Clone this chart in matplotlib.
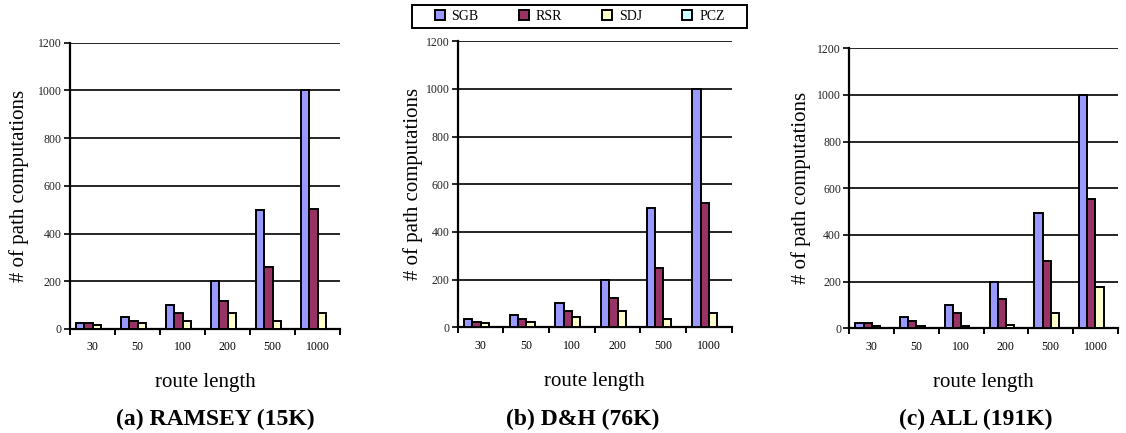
import matplotlib
matplotlib.use("Agg")
import matplotlib.pyplot as plt
from matplotlib.patches import Rectangle
import numpy as np

plt.rcParams['font.family'] = ['Liberation Serif', 'DejaVu Serif']

# route lengths on the x axis
route_lengths = ["30", "50", "100", "200", "500", "1000"]
methods = ["SGB", "RSR", "SDJ", "PCZ"]
colors = ["#9999FF", "#993366", "#FFFFCC", "#CCFFFF"]

# number of path computations per method, one list per data set
ramsey_sgb = [25, 50, 100, 200, 500, 1000]
ramsey_rsr = [25, 35, 68, 118, 260, 503]
ramsey_sdj = [17, 25, 35, 68, 35, 68]
ramsey_pcz = [0, 0, 0, 0, 0, 0]

dh_sgb = [33, 50, 100, 200, 500, 1000]
dh_rsr = [24, 34, 67, 125, 250, 520]
dh_sdj = [17, 24, 42, 67, 34, 59]
dh_pcz = [0, 0, 0, 0, 0, 0]

all_sgb = [23, 50, 100, 198, 494, 1000]
all_rsr = [23, 32, 66, 127, 290, 554]
all_sdj = [10, 9, 9, 16, 67, 179]
all_pcz = [0, 0, 0, 0, 0, 0]

# caption, data, axes rect, caption x, ylabel offset (px)
panels = [
    ("(a) RAMSEY (15K)", [ramsey_sgb, ramsey_rsr, ramsey_sdj, ramsey_pcz],
     [0.0622, 0.2402, 0.2398, 0.6612], 0.191, 51),
    ("(b) D&H (76K)", [dh_sgb, dh_rsr, dh_sdj, dh_pcz],
     [0.4065, 0.2441, 0.2433, 0.6605], 0.5178, 45),
    ("(c) ALL (191K)", [all_sgb, all_rsr, all_sdj, all_pcz],
     [0.7543, 0.2418, 0.2384, 0.6467], 0.8668, 48),
]

fig = plt.figure(figsize=(11.26, 4.33), dpi=100)

x = np.arange(len(route_lengths))
w = 1 / 5.5
handles = None
for caption, series, rect, cap_x, ylab_off in panels:
    ax = fig.add_axes(rect)
    bars = []
    for i, (vals, c) in enumerate(zip(series, colors)):
        pos = x - 0.5 + 0.75 * w + (i + 0.5) * w
        b = ax.bar(pos, vals, width=w, color=c, edgecolor="black",
                   linewidth=1.4, zorder=3, label=methods[i])
        bars.append(b)
    if handles is None:
        handles = bars

    ax.set_xlim(-0.5, 5.5)
    ax.set_ylim(0, 1200)
    ax.set_yticks(np.arange(0, 1201, 200))
    ax.yaxis.grid(True, color="black", linewidth=1.2)
    ax.set_axisbelow(True)
    for s in ["top", "right"]:
        ax.spines[s].set_visible(False)
    ax.spines["left"].set_linewidth(1.6)
    ax.spines["bottom"].set_linewidth(1.6)

    ax.set_xticks(x)
    ax.set_xticklabels(route_lengths)
    ax.set_xticks(np.arange(-0.5, 6, 1), minor=True)
    ax.tick_params(axis="x", which="major", length=0, pad=9, labelsize=8.5)
    ax.tick_params(axis="x", which="minor", length=4, width=1.4, direction="out")
    ax.tick_params(axis="y", length=4, width=1.2, pad=2, labelsize=8.5,
                   labelcolor="#222222")

    ax.set_ylabel("# of path computations", fontsize=15, va="center")
    ax.yaxis.set_label_coords(-ylab_off / (rect[2] * 1126), 0.5)
    ax.set_xlabel("route length", fontsize=15, va="center")
    ax.xaxis.set_label_coords(0.5, -54 / (rect[3] * 433))

    fig.text(cap_x, 0.031, caption, fontsize=17, fontweight="bold",
             ha="center", va="center")

# legend box across the top of the middle panel
fig.patches.append(Rectangle((0.3656, 0.9353), 0.2975, 0.0538,
                             transform=fig.transFigure, fill=False,
                             edgecolor="black", linewidth=1.4))
leg = fig.legend(handles, methods, loc="center", ncol=4,
                 bbox_to_anchor=(0.5148, 0.9622),
                 fontsize=10, frameon=False, borderaxespad=0,
                 handlelength=0.7, handleheight=0.7, handletextpad=0.5,
                 columnspacing=2.9)

fig.savefig("out.png", dpi=100)
